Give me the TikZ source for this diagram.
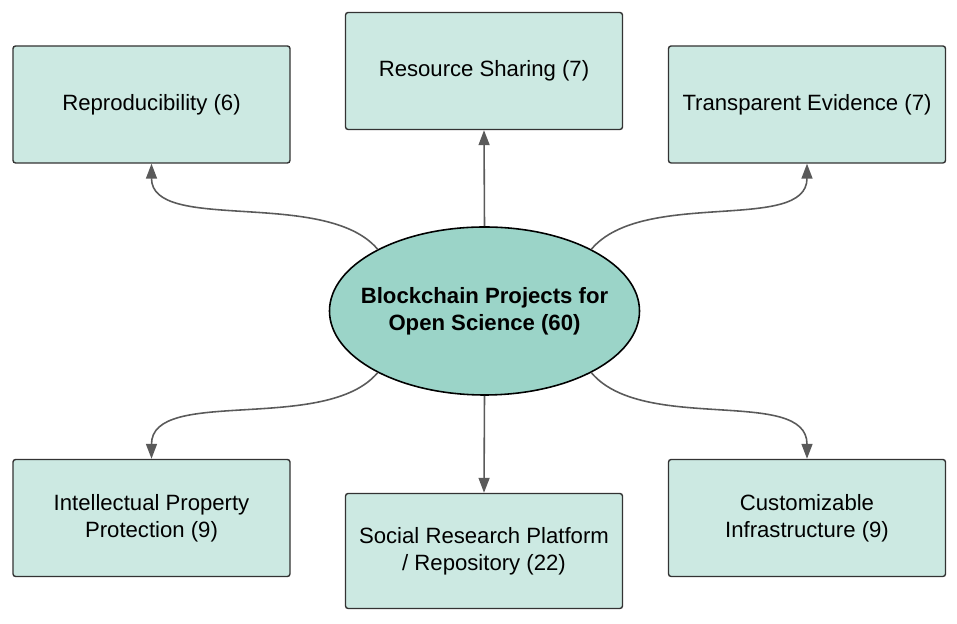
\documentclass[tikz,border=0pt]{standalone}
\usepackage{fontspec}
\setmainfont{Liberation Sans}
\usetikzlibrary{arrows.meta,shapes.geometric}
\definecolor{boxfill}{RGB}{204,233,226}
\definecolor{corefill}{RGB}{155,212,200}
\definecolor{linkgray}{RGB}{90,90,90}
\tikzset{
	topic/.style={draw=black!80, fill=boxfill, line width=0.8pt, rounded corners=1.5pt,
		minimum width=5.54cm, minimum height=2.34cm, align=center,
		font=\fontsize{12.6}{15.2}\selectfont},
	core/.style={ellipse, draw=black, fill=corefill, line width=0.9pt,
		inner xsep=-8pt, minimum width=6.16cm, minimum height=3.36cm, align=center,
		font=\fontsize{12.6}{15.2}\selectfont\bfseries},
	link/.style={draw=linkgray, line width=0.9pt, -{Triangle[length=3mm, width=2.2mm]}}
}
\begin{document}
\begin{tikzpicture}
		\useasboundingbox (0,0) rectangle (19.14,12.48);

		\node[core] (core) at (9.69,6.26) {Blockchain Projects for\\Open Science (60)};

		\node[topic] (repro) at (3.03,10.39) {Reproducibility (6)};
		\node[topic] (share) at (9.68,11.06) {Resource Sharing (7)};
		\node[topic] (trans) at (16.14,10.39) {Transparent Evidence (7)};
		\node[topic] (ip) at (3.03,2.12) {Intellectual Property\\Protection (9)};
		\node[topic, minimum height=2.3cm] (social) at (9.68,1.46) {Social Research Platform\\/ Repository (22)};
		\node[topic] (custom) at (16.14,2.12) {Customizable\\Infrastructure (9)};

		\draw[link] (core.north) -- (share.south);
		\draw[link] (core.south) -- (social.north);
		\draw[link] (core.150) .. controls +(130:1.6) and +(0,-1.4) .. (repro.south);
		\draw[link] (core.30) .. controls +(50:1.6) and +(0,-1.4) .. (trans.south);
		\draw[link] (core.210) .. controls +(230:1.6) and +(0,1.45) .. (ip.north);
		\draw[link] (core.-30) .. controls +(-50:1.6) and +(0,1.45) .. (custom.north);
	\end{tikzpicture}
\end{document}
